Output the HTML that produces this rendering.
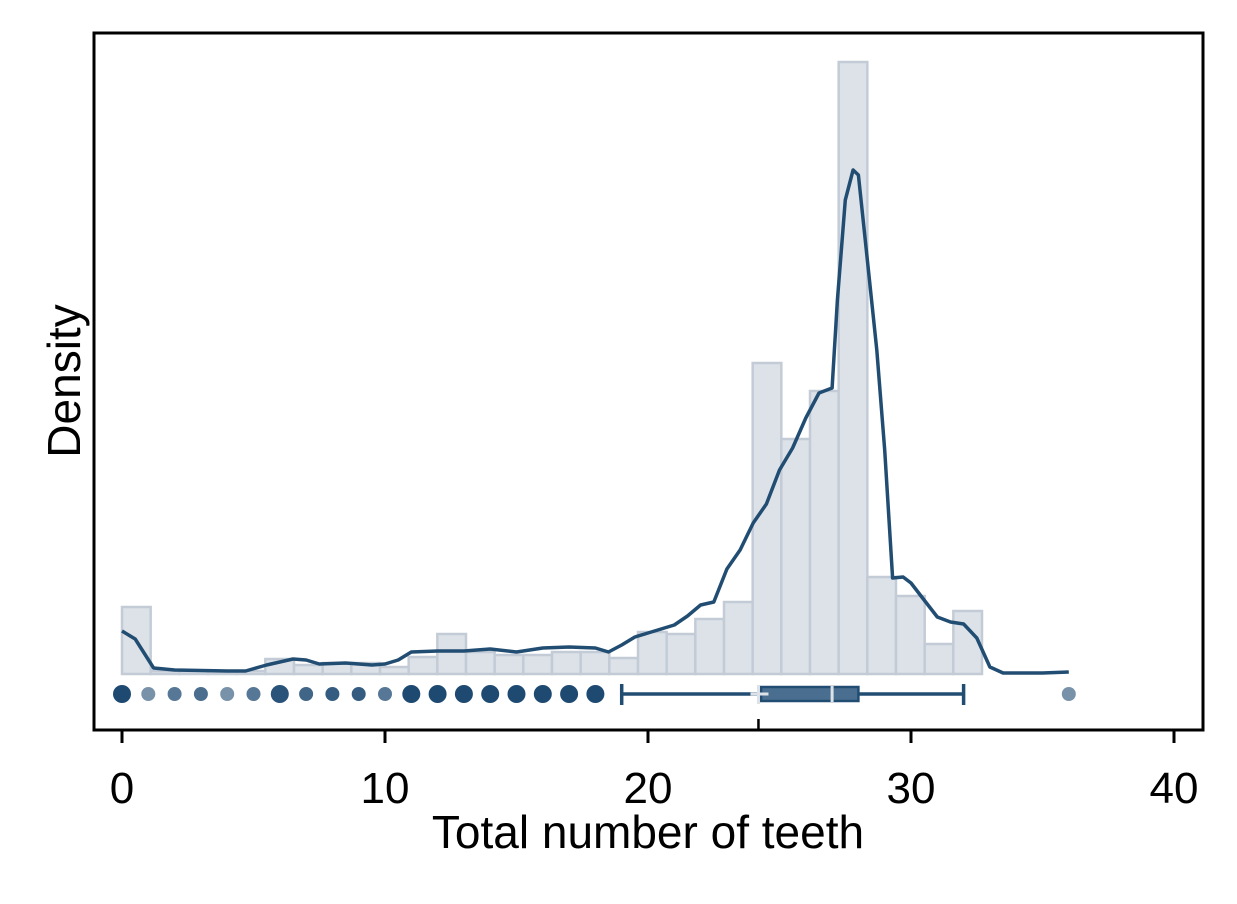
<!DOCTYPE html>
<html><head><meta charset="utf-8"><style>
body{margin:0;background:#fff}
svg text{font-family:"Liberation Sans",sans-serif}
</style></head><body>
<svg id="chart" width="1237" height="899" xmlns="http://www.w3.org/2000/svg">
<rect width="1237" height="899" fill="#fff"/>
<g id="hist"></g>
<g id="kde"></g>
<g id="dots"></g>
<g id="box"></g>
<rect x="94" y="33" width="1109" height="697" fill="none" stroke="#000" stroke-width="3"/>
<g id="xaxis"></g>
<text x="648" y="848" font-size="46" text-anchor="middle">Total number of teeth</text>
<text transform="translate(80,381) rotate(-90)" font-size="46" text-anchor="middle">Density</text>
</svg>
<script>
const binWidth = 1.09;
const binHeights = [67,3,3,3,3,15,9,11,11,7,17,40,22,19,19,22,22,16,42,40,55,72,311,235,283,612,97,78,30,63];
const kdeX = [0,0.5,1.2,2,4,4.7,5.5,6.5,7,7.5,8.5,9.5,10,10.5,11,12,13,14,15,16,17,18,18.5,19,19.5,20,20.5,21,21.5,22,22.5,23,23.5,24,24.5,25,25.5,26,26.5,27,27.2,27.5,27.8,28,28.3,28.7,29,29.3,29.7,30,30.5,31,31.5,32,32.5,33,33.5,35,36];
const kdeY = [43,35,6,4,3,3,9,15,14,10,11,9,10,14,22,23,23,25,22,26,27,26,22,29,37,41,45,49,58,69,72,105,124,151,170,204,226,256,281,286,374,474,504,499,424,324,224,96,97,91,74,57,52,50,36,7,1,1,2];
const dotValues = [0,1,2,3,4,5,6,7,8,9,10,11,12,13,14,15,16,17,18,36];
const dotAlpha = [1,0.6,0.75,0.8,0.6,0.75,0.95,0.85,0.9,0.9,0.75,1,1,1,1,1,1,1,1,0.6];
const boxStats = {min:19, q1:24.3, median:27, q3:28, max:32, mean:24.2};
const xTicks = [0,10,20,30,40];

const X = v => 122 + v*26.3;
const base = 674;
const Y = h => base - h;
const NS="http://www.w3.org/2000/svg";
function mk(tag, parent, attrs){const e=document.createElementNS(NS,tag);for(const k in attrs)e.setAttribute(k,attrs[k]);parent.appendChild(e);return e;}

const hist=document.getElementById('hist');
binHeights.forEach((h,i)=>{
  const r=mk('rect',hist,{x:X(i*binWidth),y:Y(h),width:X((i+1)*binWidth)-X(i*binWidth),height:h,fill:'#dde2e9',stroke:'#c3ccd6','stroke-width':2.5});
  
  
});

const kde=document.getElementById('kde');
const p=mk('path',kde,{d:kdeX.map((x,i)=>(i?'L':'M')+X(x).toFixed(1)+','+Y(kdeY[i]).toFixed(1)).join(''),fill:'none',stroke:'#224d72','stroke-width':3.5,'stroke-linejoin':'round'});



const dots=document.getElementById('dots');
dotValues.forEach((v,i)=>{
  const c=mk('ellipse',dots,{cx:X(v),cy:694,rx:dotAlpha[i]>0.9?9:7,ry:dotAlpha[i]>0.9?9:7,fill:'#1e4a72','fill-opacity':dotAlpha[i]});
  
  
});

const box=document.getElementById('box');
const c='#224d72';
mk('line',box,{x1:X(boxStats.min),x2:X(boxStats.q1),y1:694,y2:694,stroke:c,'stroke-width':3.5});
mk('line',box,{x1:X(boxStats.q3),x2:X(boxStats.max),y1:694,y2:694,stroke:c,'stroke-width':3.5});
mk('line',box,{x1:X(boxStats.min),x2:X(boxStats.min),y1:684,y2:705,stroke:c,'stroke-width':3.5});
mk('line',box,{x1:X(boxStats.max),x2:X(boxStats.max),y1:684,y2:705,stroke:c,'stroke-width':3.5});
const br=mk('rect',box,{x:X(boxStats.q1),y:687,width:X(boxStats.q3)-X(boxStats.q1),height:14,fill:'#4a6e90',stroke:c,'stroke-width':2.5});


mk('line',box,{x1:X(boxStats.median),x2:X(boxStats.median),y1:686,y2:702,stroke:'#dde2e9','stroke-width':3});
mk('line',box,{x1:X(boxStats.mean)-8,x2:X(boxStats.mean)+10,y1:694,y2:694,stroke:'#dde2e9','stroke-width':3});
mk('line',box,{x1:X(boxStats.mean),x2:X(boxStats.mean),y1:685,y2:704,stroke:'#dde2e9','stroke-width':3});
mk('line',box,{x1:X(boxStats.mean),x2:X(boxStats.mean),y1:719,y2:730,stroke:'#000','stroke-width':2.5});

const xa=document.getElementById('xaxis');
xTicks.forEach(t=>{
  mk('line',xa,{x1:X(t),x2:X(t),y1:730,y2:743,stroke:'#000','stroke-width':3});
  const tx=mk('text',xa,{x:X(t),y:803,'font-size':44,'text-anchor':'middle'});
  tx.textContent=t;
  
  
});
</script>
</body></html>
